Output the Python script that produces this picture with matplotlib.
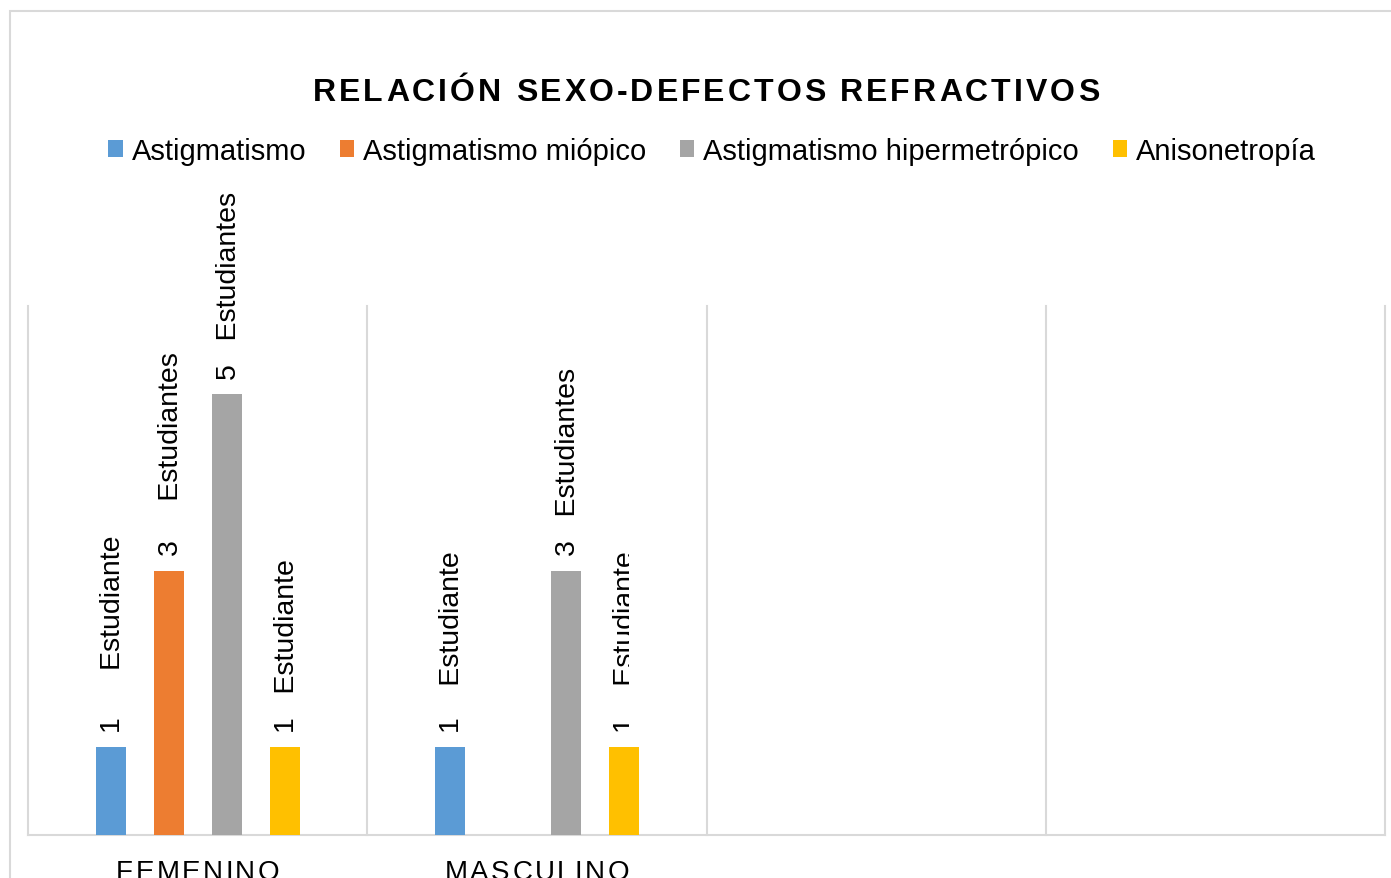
import matplotlib
matplotlib.use("Agg")
import matplotlib.pyplot as plt
import numpy as np
from matplotlib.patches import Rectangle
from matplotlib.transforms import Bbox

plt.rcParams['font.family'] = ['Liberation Sans', 'DejaVu Sans']

# Data
categories = ['FEMENINO', 'MASCULINO', '', '']
series_names = ['Astigmatismo', 'Astigmatismo miópico',
                'Astigmatismo hipermetrópico', 'Anisonetropía']
astigmatismo = [1, 1, 0, 0]
astig_miopico = [3, 0, 0, 0]
astig_hiper = [5, 3, 0, 0]
anisonetropia = [1, 1, 0, 0]

# data labels as they appear on the chart (gaps kept as in the original)
lab_astigmatismo = ['1      Estudiante', '1    Estudiante', '', '']
lab_miopico = ['3     Estudiantes', '', '', '']
lab_hiper = ['5   Estudiantes', '3   Estudiantes', '', '']
lab_aniso = ['1   Estudiante', '1    Estudiante', '', '']

colors = ['#5B9BD5', '#ED7D31', '#A5A5A5', '#FFC000']
grid_col = '#D9D9D9'

W, H = 1391, 879
fig = plt.figure(figsize=(W / 100, H / 100), dpi=100)
ax = fig.add_axes([28 / W, 1 - 836 / H, (1385 - 28) / W, (836 - 307) / H])

x = np.arange(len(categories))
bar_w = 0.0885
offsets = [-0.2566, -0.0855, 0.0855, 0.2566]

all_vals = [astigmatismo, astig_miopico, astig_hiper, anisonetropia]
all_labs = [lab_astigmatismo, lab_miopico, lab_hiper, lab_aniso]

# the last label of MASCULINO is cut off on its right side in the original
clipped = (3, 1)
clip_right_px = 629

for s in range(4):
    vals = np.array(all_vals[s], dtype=float)
    vals[vals == 0] = np.nan
    ax.bar(x + offsets[s], vals, bar_w, color=colors[s], label=series_names[s], zorder=3)
    for i, v in enumerate(all_vals[s]):
        if v > 0:
            t = ax.annotate(all_labs[s][i], (x[i] + offsets[s], v), xytext=(2, 15),
                            textcoords='offset pixels', rotation=90,
                            ha='center', va='bottom', fontsize=20.5, color='black')
            if (s, i) == clipped:
                t.set_clip_on(True)
                t.set_clip_box(Bbox.from_extents(0, 0, clip_right_px, H))

ax.set_xlim(-0.5, len(categories) - 0.5)
ax.set_ylim(0, 6)
ax.set_xticks([])
ax.set_yticks([])
for xb in np.arange(-0.5, len(categories), 1):
    ax.axvline(xb, color=grid_col, lw=1.5, zorder=1, clip_on=False)
for sp in ['top', 'left', 'right']:
    ax.spines[sp].set_visible(False)
ax.spines['bottom'].set_color(grid_col)
ax.spines['bottom'].set_linewidth(1.5)

# chart border
fig.add_artist(Rectangle((10 / W, -0.1), 1.2, 1.1 - 12 / H, fill=False,
                         edgecolor=grid_col, lw=1.5, transform=fig.transFigure))

fig.legend(loc='center', bbox_to_anchor=(712 / W, 1 - 152 / H), ncol=4,
           frameon=False, fontsize=21, handlelength=0.5, handleheight=0.5,
           handletextpad=0.3, columnspacing=1.15)


def spaced_text(xc, y, s, extra, **kw):
    # draw text centred at xc (pixels) with extra letter spacing
    r = fig.canvas.get_renderer()

    def width(txt):
        t = fig.text(0, 0, txt, **kw)
        w = t.get_window_extent(r).width
        t.remove()
        return w

    base = width('H')
    starts = [width(s[:i] + 'H') - base for i in range(len(s))]
    total = width(s) + extra * (len(s) - 1)
    x0 = xc - total / 2
    for i, ch in enumerate(s):
        if ch != ' ':
            fig.text((x0 + starts[i] + extra * i) / W, 1 - y / H, ch,
                     ha='left', va='baseline', **kw)


spaced_text(706, 101, 'RELACIÓN SEXO-DEFECTOS REFRACTIVOS', 3.0,
            fontsize=23, fontweight='bold', color='black')

for i, cat in enumerate(categories):
    if cat:
        xc = ax.transData.transform((x[i], 0))[0]
        spaced_text(xc, 880, cat, 2.4, fontsize=20, color='black')

fig.savefig('out.png', dpi=100)
